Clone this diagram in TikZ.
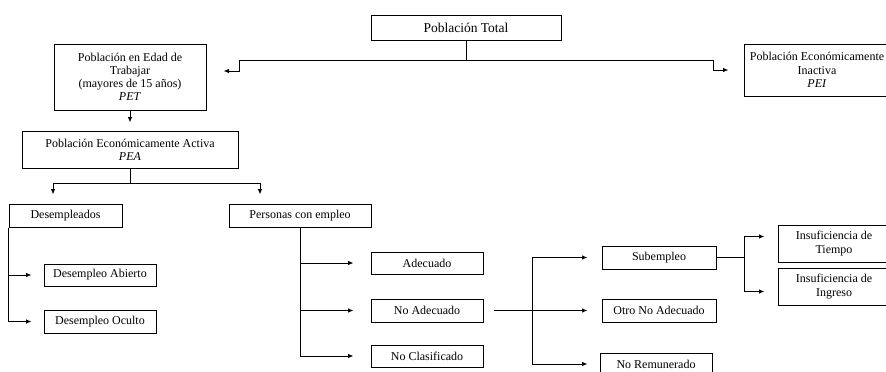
\documentclass[tikz,border=0pt]{standalone}
\usepackage{fontspec}
\setmainfont{Liberation Serif}
\usetikzlibrary{arrows.meta}
\usetikzlibrary{arrows,positioning}

\begin{document}
\begin{tikzpicture}[x=1pt,y=-1pt,>={Latex[length=5.5pt,width=4.5pt]},
    caja/.style={draw, line width=1pt, inner sep=1pt, align=center,
      font=\fontsize{12}{13.2}\selectfont},
    flecha/.style={->, line width=0.9pt}]
    \useasboundingbox (0,0) rectangle (886,372);
    \clip (0,0) rectangle (886,372);
    \node[caja, minimum width=190pt, minimum height=25pt,
      font=\fontsize{13.5}{15}\selectfont] (total) at (466,27.5) {Población Total};
    \node[caja, minimum width=152pt, minimum height=66pt] (pet) at (130,77)
      {Población en Edad de\\Trabajar\\(mayores de 15 años)\\\textit{PET}};
    \node[caja, minimum width=146pt, minimum height=52pt] (pei) at (817,70)
      {Población Económicamente\\Inactiva\\\textit{PEI}};
    \node[caja, minimum width=216pt, minimum height=37pt] (pea) at (130,149.5)
      {Población Económicamente Activa\\\textit{PEA}};
    \node[caja, minimum width=113pt, minimum height=23pt] (desemp) at (65.5,215.5) {Desempleados};
    \node[caja, minimum width=142pt, minimum height=23pt] (conemp) at (300,215.5) {Personas con empleo};
    \node[caja, minimum width=112pt, minimum height=22pt] (abierto) at (100,275) {Desempleo Abierto};
    \node[caja, minimum width=112pt, minimum height=23pt] (oculto) at (100,321.5) {Desempleo Oculto};
    \node[caja, minimum width=112pt, minimum height=22pt] (adecuado) at (427,263) {Adecuado};
    \node[caja, minimum width=112pt, minimum height=23pt] (noadec) at (427,310.5) {No Adecuado};
    \node[caja, minimum width=112pt, minimum height=22pt] (noclas) at (427,356) {No Clasificado};
    \node[caja, minimum width=114pt, minimum height=23pt] (subemp) at (659,257.5) {Subempleo};
    \node[caja, minimum width=114pt, minimum height=23pt] (otro) at (659,310.5) {Otro No Adecuado};
    \node[caja, minimum width=112pt, minimum height=22pt] (norem) at (656,364) {No Remunerado};
    \node[caja, minimum width=112pt, minimum height=37pt] (tiempo) at (834,243.5) {Insuficiencia de\\Tiempo};
    \node[caja, minimum width=112pt, minimum height=37pt] (ingreso) at (834,286.5) {Insuficiencia de\\Ingreso};
    \coordinate (rama) at (532,310.5);
    \coordinate (bifur) at (744,257.5);

    \draw[flecha, shorten >=17pt] (total.south) |- (239,60) |- ([yshift=6pt]pet.east);
    \draw[flecha, shorten >=15pt] (total.south) |- (713,60) |- (pei.west);
    \draw[flecha, shorten >=8pt] (pet) -- (pea);
    \draw[flecha, shorten >=9pt] (pea.south) -- ++(0,15) -| ([xshift=-12.5pt]desemp.north);
    \draw[flecha, shorten >=9pt] (pea.south) -- ++(0,15) -| ([xshift=-40pt]conemp.north);
    \draw[flecha, shorten >=12pt] (desemp.south west) |- (abierto.west);
    \draw[flecha, shorten >=12pt] (desemp.south west) |- (oculto.west);
    \draw[flecha, shorten >=17pt] (conemp.south) |- (adecuado.west);
    \draw[flecha, shorten >=17pt] (conemp.south) |- (noadec.west);
    \draw[flecha, shorten >=17pt] (conemp.south) |- (noclas.west);
    \draw[flecha, shorten <=10pt, shorten >=14pt] (noadec.east) -- (otro.west);
    \draw[flecha, shorten >=14pt] (rama) |- (subemp.west);
    \draw[flecha, shorten >=12pt] (rama) |- (norem.west);
    \draw[line width=0.9pt] (subemp.east) -- (bifur);
    \draw[flecha, shorten >=13pt] (bifur) |- ([yshift=7pt]tiempo.west);
    \draw[flecha, shorten >=13pt] (bifur) |- ([yshift=-5pt]ingreso.west);
  \end{tikzpicture}
\end{document}
